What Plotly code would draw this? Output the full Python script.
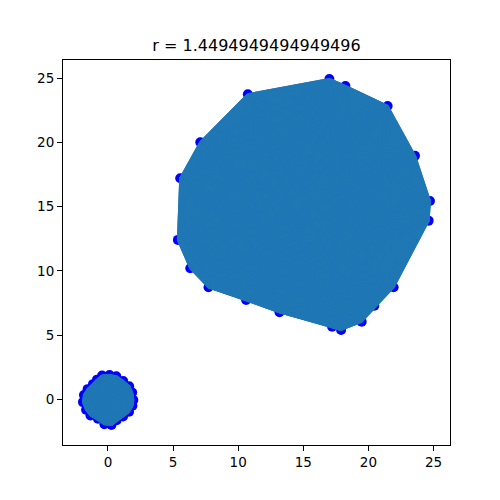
import plotly.graph_objects as go

# Points (cluster hull points, in order round the hull)
big_x = [10.74, 17.0, 18.23, 21.47, 23.57, 24.72, 24.62, 21.93, 20.45, 19.48,
         17.9, 17.21, 13.17, 10.61, 7.72, 6.32, 5.37, 5.55, 7.09]
big_y = [23.75, 24.94, 24.4, 22.84, 18.97, 15.44, 13.91, 8.72, 7.29, 6.04,
         5.4, 5.65, 6.78, 7.73, 8.72, 10.2, 12.41, 17.21, 20.02]

small_x = [-0.45, 0.12, 0.64, 1.17, 1.63, 1.86, 1.95, 1.88, 1.62, 1.16, 0.67,
           0.27, -0.27, -0.77, -1.34, -1.68, -1.92, -1.84, -1.56, -1.15, -0.84]
small_y = [1.85, 1.89, 1.8, 1.43, 1.02, 0.52, -0.05, -0.51, -0.97, -1.34, -1.63,
           -2.0, -1.95, -1.51, -1.26, -0.81, -0.22, 0.33, 0.79, 1.18, 1.53]

r = 1.4494949494949496
title = "r = " + str(r)

line_color = "#1f77b4"

fig = go.Figure()

# scatter of all points first, lines go on top
fig.add_trace(go.Scatter(x=big_x + small_x, y=big_y + small_y, mode="markers",
                         marker=dict(color="blue", size=10, line_width=0)))

for xs, ys in [(big_x, big_y), (small_x, small_y)]:
    # filled hull (dense lines in the original)
    fig.add_trace(go.Scatter(x=xs + [xs[0]], y=ys + [ys[0]], mode="lines",
                             fill="toself", fillcolor=line_color,
                             line=dict(color=line_color, width=2)))
    # every pair of points joined
    lx, ly = [], []
    for i in range(len(xs)):
        for j in range(i + 1, len(xs)):
            lx += [xs[i], xs[j], None]
            ly += [ys[i], ys[j], None]
    fig.add_trace(go.Scatter(x=lx, y=ly, mode="lines",
                             line=dict(color=line_color, width=2)))

axis_style = dict(showgrid=False, zeroline=False, showline=True, mirror=True,
                  linecolor="black", linewidth=1, ticks="outside", ticklen=5,
                  tickcolor="black", tickfont=dict(size=13.5, color="black"),
                  dtick=5)

fig.update_layout(
    width=500, height=500,
    margin=dict(l=55, r=58, t=52, b=63),
    plot_bgcolor="white", paper_bgcolor="white",
    showlegend=False,
    font=dict(family="DejaVu Sans", color="black"),
    title=dict(text=title, x=0.497, xanchor="center", y=0.926, yanchor="middle",
               font=dict(size=16, color="black")),
    xaxis=dict(range=[-3.45, 26.26], **axis_style),
    yaxis=dict(range=[-3.56, 26.42], **axis_style),
)

fig.write_html("out.html")
